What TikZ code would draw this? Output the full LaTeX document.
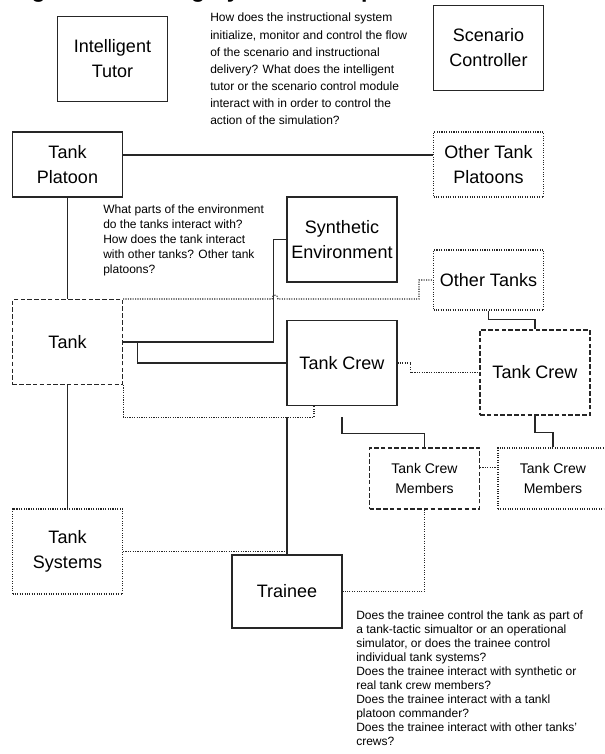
\documentclass[tikz,border=0pt]{standalone}
\usepackage{fontspec}
\setmainfont{Liberation Sans}
\usetikzlibrary{calc}
\begin{document}
\begin{tikzpicture}[x=0.75pt,y=-0.75pt,
                box/.style={draw=black!85,line width=0.8pt,minimum width=82.5pt,minimum height=63.75pt,
                    inner sep=0pt,align=center,font=\fontsize{13.5}{18.75}\selectfont},
                dashbox/.style={box,dash pattern=on 3.4pt off 1.7pt},
                dotbox/.style={box,densely dotted},
                membertext/.style={font=\fontsize{10.5}{15}\selectfont},
                note/.style={anchor=north west,align=left,inner sep=0pt,font=\fontsize{9}{12.8}\selectfont},
                tightnote/.style={note,font=\fontsize{9}{11.25}\selectfont},
                listnote/.style={note,font=\fontsize{9}{10.5}\selectfont},
                link/.style={draw=black!85,line width=0.8pt},
                dotlink/.style={link,densely dotted}]
                \useasboundingbox (0,0) rectangle (604,754);
                \clip (0,0) rectangle (604,754);
                \node[anchor=base west,inner sep=0pt,font=\bfseries\fontsize{17.25}{20}\selectfont] (title) at (11,-2.5) {Figure 1. Training System Example};
                \node[box] (tutor) at (112.5,59) {Intelligent\\Tutor};
                \node[box] (scenario) at (488.5,48) {Scenario\\Controller};
                \node[note] (tutornote) at (210,13) {How does the instructional system\\initialize, monitor and control the flow\\of the scenario and instructional\\delivery? What does the intelligent\\tutor or the scenario control module\\interact with in order to control the\\action of the simulation?};
                \node[box,minimum height=48.75pt] (platoon) at (67.5,164.5) {Tank\\Platoon};
                \node[dotbox,minimum height=48.75pt] (otherplatoons) at (488.5,164.5) {Other Tank\\Platoons};
                \node[box] (synth) at (342,239.5) {Synthetic\\Environment};
                \node[tightnote] (envnote) at (103,205) {What parts of the environment\\do the tanks interact with?\\How does the tank interact\\with other tanks? Other tank\\platoons?};
                \node[dotbox,minimum height=45pt] (othertanks) at (488.5,280) {Other Tanks};
                \node[dashbox] (tank) at (67.5,342) {Tank};
                \node[box] (crew) at (342,363) {Tank Crew};
                \node[dashbox] (othercrew) at (535,372.5) {Tank Crew};
                \node[dashbox,membertext,minimum height=45.75pt] (members) at (424.5,478.5) {Tank Crew\\Members};
                \node[dotbox,membertext,minimum height=45.75pt] (othermembers) at (553,478.5) {Tank Crew\\Members};
                \node[dotbox] (systems) at (67.5,551.5) {Tank\\Systems};
                \node[box,minimum height=54.75pt] (trainee) at (287,591.5) {Trainee};
                \node[listnote] (traineenote) at (356,611) {Does the trainee control the tank as part of\\a tank-tactic simualtor or an operational\\simulator, or does the trainee control\\individual tank systems?\\Does the trainee interact with synthetic or\\real tank crew members?\\Does the trainee interact with a tankl\\platoon commander?\\Does the trainee interact with other tanks'\\crews?};
                \coordinate (otherknee) at ($(othertanks.west)+(-14,0)$);
                \coordinate (crewlow) at ($(tank.south east)+(0,32)$);
                \draw[link] ($(platoon.east)+(0,-9.5)$) -- ($(otherplatoons.west)+(0,-9.5)$);
                \draw[link] (platoon.south) -- (tank.north);
                \draw[dotlink] (tank.north east) -- ++(149,0) .. controls +(0,-5) and +(0,-5) .. ++(6,0)
                    -- (otherknee |- tank.north) -- (otherknee) -- (othertanks.west);
                \draw[link] (synth.west) -- ++(-13,0) |- (tank.east);
                \draw[link] (tank.east) -- ++(14,0) |- (crew.west);
                \draw[dotlink] (tank.south east) -- (crewlow) -| ($(crew.south)+(-28,0)$);
                \draw[link] (trainee.north) -- (trainee.north |- crewlow);
                \draw[dotlink] (crew.east) -- ++(13,0) |- (othercrew.west);
                \draw[link] (othertanks.south) -- ++(0,9) -| (othercrew.north);
                \draw[link] ($(crew.south)+(0,11)$) -- ++(0,16) -| (members.north);
                \draw[link] (othercrew.south) -- ++(0,17) -| (othermembers.north);
                \draw[dotlink] ($(members.east)+(0,-11)$) -- ($(othermembers.west)+(0,-11)$);
                \draw[dotlink] (members.south) |- (trainee.east);
                \draw[dotlink] (systems.east) -- (systems.east -| trainee.north);
                \draw[link] (tank.south) -- (systems.north);
            \end{tikzpicture}
\end{document}
